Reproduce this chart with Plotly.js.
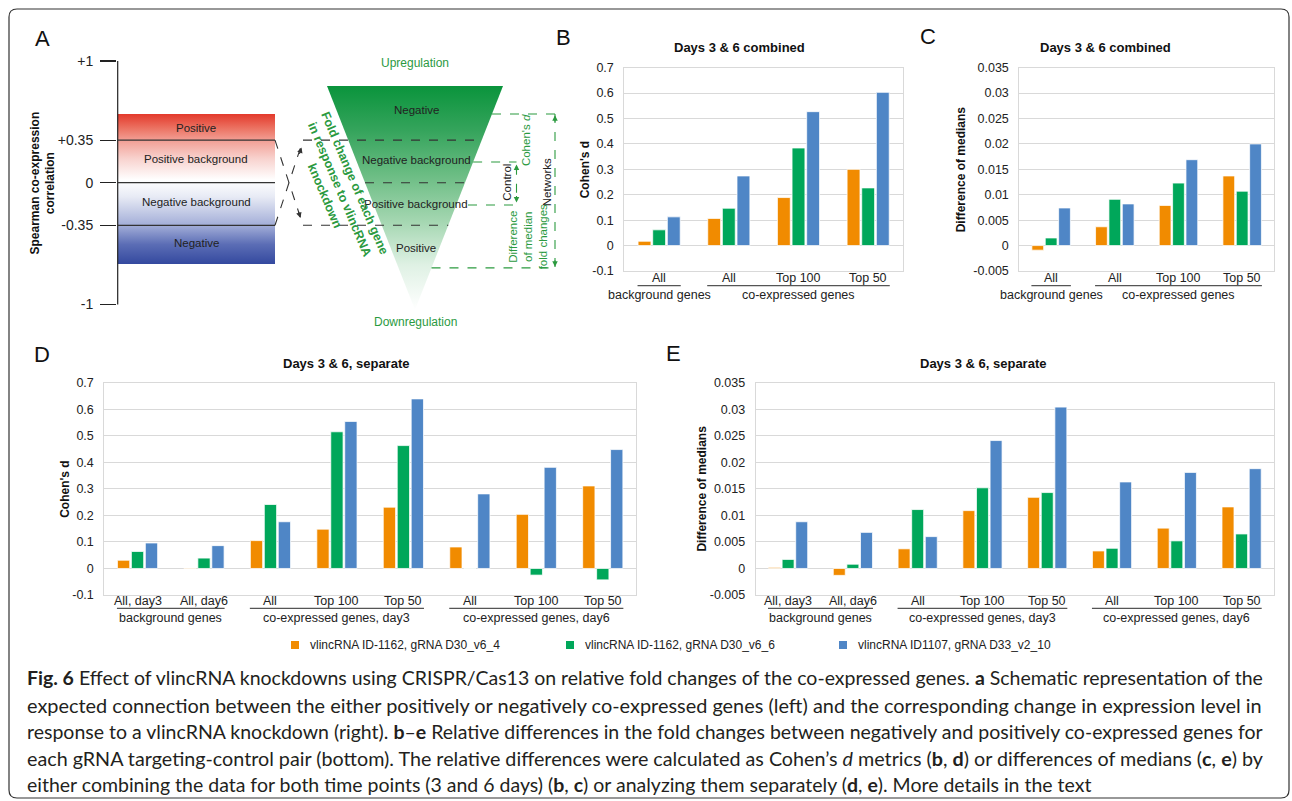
<!DOCTYPE html>
<html>
<head>
<meta charset="utf-8">
<script src="https://cdn.plot.ly/plotly-3.0.1.min.js"></script>
<style>html,body{margin:0;padding:0;background:#fff;}#chart{width:1292px;height:801px;}</style>
</head>
<body>
<div id="chart"></div>
<script>
// ---------------- DATA ----------------
const seriesNames = ['vlincRNA ID-1162, gRNA D30_v6_4', 'vlincRNA ID-1162, gRNA D30_v6_6', 'vlincRNA ID1107, gRNA D33_v2_10'];
const seriesColors = ['#F18B00', '#00A75A', '#4F86C6'];

// Panel B / C categories (days combined)
const catsCombined = ['All', 'All', 'Top 100', 'Top 50'];
const groupsCombined = [
  {label: 'background genes', from: 0, to: 0},
  {label: 'co-expressed genes', from: 1, to: 3}
];
// Panel D / E categories (days separate)
const catsSeparate = ['All, day3', 'All, day6', 'All', 'Top 100', 'Top 50', 'All', 'Top 100', 'Top 50'];
const groupsSeparate = [
  {label: 'background genes', from: 0, to: 1},
  {label: 'co-expressed genes, day3', from: 2, to: 4},
  {label: 'co-expressed genes, day6', from: 5, to: 7}
];

// B: Cohen's d, combined
const cohenCombined_v6_4 = [0.017, 0.107, 0.189, 0.300];
const cohenCombined_v6_6 = [0.062, 0.147, 0.384, 0.227];
const cohenCombined_v2_10 = [0.113, 0.274, 0.527, 0.603];
// C: difference of medians, combined
const medCombined_v6_4 = [-0.0009, 0.0037, 0.0079, 0.0137];
const medCombined_v6_6 = [0.0015, 0.0091, 0.0123, 0.0107];
const medCombined_v2_10 = [0.0074, 0.0082, 0.0169, 0.0200];
// D: Cohen's d, separate
const cohenSeparate_v6_4 = [0.031, 0.002, 0.105, 0.148, 0.231, 0.081, 0.204, 0.311];
const cohenSeparate_v6_6 = [0.064, 0.039, 0.241, 0.515, 0.463, 0.001, -0.025, -0.043];
const cohenSeparate_v2_10 = [0.096, 0.086, 0.176, 0.554, 0.639, 0.281, 0.381, 0.448];
// E: difference of medians, separate
const medSeparate_v6_4 = [0.0002, -0.0013, 0.0037, 0.0109, 0.0134, 0.0033, 0.0076, 0.0116];
const medSeparate_v6_6 = [0.0017, 0.0008, 0.0111, 0.0152, 0.0143, 0.0038, 0.0052, 0.0065];
const medSeparate_v2_10 = [0.0088, 0.0068, 0.0060, 0.0241, 0.0304, 0.0163, 0.0181, 0.0188];

// Tick labels
const cohenTicks = [-0.1, 0, 0.1, 0.2, 0.3, 0.4, 0.5, 0.6, 0.7];
const cohenTickText = ['-0.1', '0', '0.1', '0.2', '0.3', '0.4', '0.5', '0.6', '0.7'];
const medTicks = [-0.005, 0, 0.005, 0.01, 0.015, 0.02, 0.025, 0.03, 0.035];
const medTickText = ['-0.005', '0', '0.005', '0.01', '0.015', '0.02', '0.025', '0.03', '0.035'];

// Panel A schematic
const corrTicks = [1, 0.35, 0, -0.35, -1];
const corrTickText = ['+1', '+0.35', '0', '-0.35', '-1'];
const corrBoundaries = [0.35, 0, -0.35];
const corrRegionLabels = ['Positive', 'Positive background', 'Negative background', 'Negative'];
const corrRegionLabelY = [0.449, 0.195, -0.159, -0.496];
const corrBarRange = [-0.668, 0.565];
const foldRegionLabels = ['Negative', 'Negative background', 'Positive background', 'Positive'];
const foldRegionLabelY = [0.597, 0.186, -0.175, -0.54];

// ---------------- FONT RESOLUTION ----------------
const measureCtx = document.createElement('canvas').getContext('2d');
function textWidth(str, font) { measureCtx.font = font; return measureCtx.measureText(str).width; }
const ALPHA = 'abcdefghijklmnopqrstuvwxyz';
const ARIAL_ALPHA_100 = 1272.6;
function fontExists(name) {
  return ['monospace', 'serif'].some(base => textWidth(ALPHA + 'WMil0', '100px ' + base) !== textWidth(ALPHA + 'WMil0', '100px "' + name + '", ' + base));
}
let FONT = null, SCALE = 1;
for (const cand of ['Liberation Sans', 'Arimo', 'Arial', 'Helvetica', 'Nimbus Sans', 'FreeSans']) {
  if (fontExists(cand)) {
    const w = textWidth(ALPHA, '100px "' + cand + '"');
    if (Math.abs(w / ARIAL_ALPHA_100 - 1) < 0.04) { FONT = cand; break; }
  }
}
if (!FONT) {
  FONT = fontExists('Roboto') ? 'Roboto' : 'sans-serif';
  SCALE = ARIAL_ALPHA_100 / textWidth(ALPHA, '100px "' + FONT + '"');
  if (!isFinite(SCALE) || SCALE <= 0) SCALE = 1;
}
const sz = n => n * SCALE;
const CAPTION_FONT = fontExists('Lato') ? 'Lato' : (fontExists('Open Sans') ? 'Open Sans' : FONT);

// ---------------- LAYOUT HELPERS ----------------
const W = 1292, H = 801;
const fx = p => p / W;
const fy = p => 1 - p / H;
const GREEN_TXT = '#2b9a3f';

const traces = [];
const shapes = [];
const annotations = [];
const layout = {
  width: W, height: H,
  margin: {l: 0, r: 0, t: 0, b: 0},
  paper_bgcolor: '#ffffff', plot_bgcolor: 'rgba(0,0,0,0)',
  showlegend: false,
  barmode: 'group', bargap: 0.37, bargroupgap: 0.12,
  font: {family: FONT, color: '#222'},
  hovermode: false
};

function ann(text, x, y, o) {
  annotations.push(Object.assign({
    text: text, x: fx(x), y: fy(y), xref: 'paper', yref: 'paper',
    showarrow: false, xanchor: 'center', yanchor: 'middle',
    font: {family: FONT, size: sz(12), color: '#222'}
  }, o || {}));
}

// ---------------- BAR PANELS ----------------
const panels = [
  {n: 1, cats: catsCombined, groups: groupsCombined, series: [cohenCombined_v6_4, cohenCombined_v6_6, cohenCombined_v2_10],
   xd: [624.3, 903], yd: [67.7, 271], range: [-0.1, 0.7], ticks: cohenTicks, tickText: cohenTickText,
   ytitle: "Cohen's d", ytx: 585, title: 'Days 3 & 6 combined', tx: 740, ty: 47.7, catY: 278, lineY: 285.7, groupY: 294.5},
  {n: 2, cats: catsCombined, groups: groupsCombined, series: [medCombined_v6_4, medCombined_v6_6, medCombined_v2_10],
   xd: [1019.3, 1274], yd: [67.7, 271], range: [-0.005, 0.035], ticks: medTicks, tickText: medTickText,
   ytitle: 'Difference of medians', ytx: 961, title: 'Days 3 & 6 combined', tx: 1105, ty: 47.7, catY: 278, lineY: 285.7, groupY: 294.5},
  {n: 3, cats: catsSeparate, groups: groupsSeparate, series: [cohenSeparate_v6_4, cohenSeparate_v6_6, cohenSeparate_v2_10],
   xd: [104.3, 636], yd: [382.7, 595], range: [-0.1, 0.7], ticks: cohenTicks, tickText: cohenTickText,
   ytitle: "Cohen's d", ytx: 65, title: 'Days 3 & 6, separate', tx: 346, ty: 363, catY: 601.3, lineY: 608.3, groupY: 617.5},
  {n: 4, cats: catsSeparate, groups: groupsSeparate, series: [medSeparate_v6_4, medSeparate_v6_6, medSeparate_v2_10],
   xd: [755.7, 1274], yd: [382.7, 595], range: [-0.005, 0.035], ticks: medTicks, tickText: medTickText,
   ytitle: 'Difference of medians', ytx: 701.7, title: 'Days 3 & 6, separate', tx: 983, ty: 363, catY: 601.3, lineY: 608.3, groupY: 617.5}
];

panels.forEach(p => {
  const sfx = p.n === 1 ? '' : String(p.n);
  const xa = 'x' + sfx, ya = 'y' + sfx;
  const idx = p.cats.map((c, i) => i);
  p.series.forEach((vals, s) => {
    traces.push({
      type: 'bar', x: idx, y: vals, xaxis: xa, yaxis: ya, name: seriesNames[s],
      marker: {color: seriesColors[s], line: {color: 'rgba(255,255,255,0.75)', width: 1}},
      hoverinfo: 'skip'
    });
  });
  layout['xaxis' + sfx] = {
    domain: [fx(p.xd[0]), fx(p.xd[1])], anchor: ya, range: [-0.5, p.cats.length - 0.5],
    tickmode: 'array', tickvals: idx, ticktext: p.cats, ticks: '', showticklabels: false,
    showgrid: false, zeroline: false,
    showline: true, mirror: true, linecolor: '#d9d9d9', linewidth: 1, fixedrange: true
  };
  layout['yaxis' + sfx] = {
    domain: [fy(p.yd[1]), fy(p.yd[0])], anchor: xa, range: p.range,
    tickmode: 'array', tickvals: p.ticks, ticktext: p.tickText, ticks: '',
    showgrid: true, gridcolor: '#d9d9d9', gridwidth: 1, zeroline: false,
    showline: true, mirror: true, linecolor: '#d9d9d9', linewidth: 1,
    tickfont: {family: FONT, size: sz(12.5), color: '#222'}, ticklabelstandoff: 7,
    fixedrange: true
  };
  p.cats.forEach((c, i) => annotations.push({text: c, xref: xa, yref: 'paper', x: i, y: fy(p.catY),
    showarrow: false, xanchor: 'center', yanchor: 'middle', font: {family: FONT, size: sz(12.5), color: '#222'}}));
  ann('<b>' + p.ytitle + '</b>', p.ytx, (p.yd[0] + p.yd[1]) / 2, {textangle: -90, font: {family: FONT, size: sz(12), color: '#111'}});
  ann('<b>' + p.title + '</b>', p.tx, p.ty, {font: {family: FONT, size: sz(13), color: '#111'}});
  p.groups.forEach(g => {
    shapes.push({type: 'line', xref: xa, yref: 'paper', x0: g.from - 0.31, x1: g.to + 0.31,
      y0: fy(p.lineY), y1: fy(p.lineY), line: {color: '#555', width: 1.2}});
    annotations.push({text: g.label, xref: xa, yref: 'paper', x: (g.from + g.to) / 2, y: fy(p.groupY),
      showarrow: false, xanchor: 'center', yanchor: 'middle', font: {family: FONT, size: sz(12.5), color: '#222'}});
  });
});

// ---------------- PANEL A (schematic) ----------------
layout.xaxis5 = {domain: [fx(117), fx(560)], range: [117, 560], anchor: 'y5', visible: false, fixedrange: true};
layout.yaxis5 = {
  domain: [fy(322.65), fy(42.75)], range: [-1.15, 1.15], anchor: 'x5',
  tickmode: 'array', tickvals: corrTicks, ticktext: corrTickText,
  ticks: 'outside', ticklen: 16, tickwidth: 1.2, tickcolor: '#222',
  showgrid: false, zeroline: false, showline: false,
  tickfont: {family: FONT, size: sz(14), color: '#222'}, ticklabelstandoff: 4,
  fixedrange: true
};
ann('<b>Spearman co-expression</b><br><b>correlation</b>', 42.5, 183, {textangle: -90, font: {family: FONT, size: sz(12), color: '#111'}});
const XA = 'x5', YA = 'y5';
const rectL = 117.7, rectR = 275;
traces.push({
  type: 'scatter', xaxis: XA, yaxis: YA, mode: 'lines', line: {width: 0, color: 'rgba(0,0,0,0)'},
  x: [rectL, rectR, rectR, rectL, rectL],
  y: [corrBarRange[1], corrBarRange[1], corrBarRange[0], corrBarRange[0], corrBarRange[1]],
  fill: 'toself',
  fillgradient: {type: 'vertical', start: corrBarRange[0], stop: corrBarRange[1],
    colorscale: [[0, '#34499f'], [0.13, '#5b6db5'], [0.258, '#a3aed8'], [0.45, '#e8ebf5'], [0.56, '#ffffff'], [0.70, '#f8d3cf'], [0.826, '#f29e94'], [0.9, '#ec7565'], [1, '#e3392b']]},
  hoverinfo: 'skip'
});
const tri = {top: 0.795, bot: -1.045, left: 327, right: 503, apex: 415};
traces.push({
  type: 'scatter', xaxis: XA, yaxis: YA, mode: 'lines', line: {width: 0, color: 'rgba(0,0,0,0)'},
  x: [tri.left, tri.right, tri.apex, tri.left], y: [tri.top, tri.top, tri.bot, tri.top],
  fill: 'toself',
  fillgradient: {type: 'vertical', start: tri.bot, stop: tri.top,
    colorscale: [[0, '#ffffff'], [0.2, '#dff1e4'], [0.4, '#a3d6b0'], [0.6, '#6cbd84'], [0.8, '#35a45c'], [1, '#0a943c']]},
  hoverinfo: 'skip'
});
const triL = y => tri.left + (tri.top - y) / (tri.top - tri.bot) * (tri.apex - tri.left);
const triR = y => tri.right - (tri.top - y) / (tri.top - tri.bot) * (tri.right - tri.apex);

shapes.push({type: 'line', xref: XA, yref: YA, x0: 117.7, x1: 117.7, y0: -1, y1: 1, line: {color: '#222', width: 1.2}});
corrBoundaries.forEach(b => shapes.push({type: 'line', xref: XA, yref: YA, x0: 117.7, x1: rectR, y0: b, y1: b, line: {color: '#333', width: 1.2}}));
corrRegionLabels.forEach((t, i) => annotations.push({text: t, xref: XA, yref: YA, x: (rectL + rectR) / 2, y: corrRegionLabelY[i],
  showarrow: false, font: {family: FONT, size: sz(11.5), color: '#222'}}));
const dashStart = 303;
const ddash = {color: '#333', width: 1.1, dash: 'dash'};
shapes.push({type: 'line', xref: XA, yref: YA, x0: dashStart, x1: triR(0.35), y0: 0.35, y1: 0.35, line: ddash});
shapes.push({type: 'line', xref: XA, yref: YA, x0: triL(0), x1: triR(0), y0: 0, y1: 0, line: ddash});
shapes.push({type: 'line', xref: XA, yref: YA, x0: dashStart, x1: triR(-0.35), y0: -0.35, y1: -0.35, line: ddash});
shapes.push({type: 'line', xref: XA, yref: YA, x0: rectR, x1: dashStart, y0: 0.35, y1: -0.35, line: ddash});
shapes.push({type: 'line', xref: XA, yref: YA, x0: rectR, x1: dashStart, y0: -0.35, y1: 0.35, line: ddash});
function arrowHead(x, y, ax, ay, color) {
  annotations.push({text: '', xref: XA, yref: YA, x: x, y: y, ax: ax, ay: ay, axref: 'pixel', ayref: 'pixel',
    showarrow: true, arrowhead: 2, arrowsize: 1, arrowwidth: 1.1, arrowcolor: color});
}
arrowHead(300.5, -0.29, -2.5, -8, '#333');
arrowHead(301.5, 0.29, -2.5, 8, '#333');
foldRegionLabels.forEach((t, i) => annotations.push({text: t, xref: XA, yref: YA, x: tri.apex + 1, y: foldRegionLabelY[i],
  showarrow: false, font: {family: FONT, size: sz(11.5), color: '#222'}}));
annotations.push({text: 'Upregulation', xref: XA, yref: YA, x: tri.apex, y: 0.985, showarrow: false, font: {family: FONT, size: sz(12), color: GREEN_TXT}});
annotations.push({text: 'Downregulation', xref: XA, yref: YA, x: tri.apex, y: -1.145, showarrow: false, font: {family: FONT, size: sz(12), color: GREEN_TXT}});
annotations.push({text: '<b>Fold change of each gene</b><br><b>in response to vlincRNA</b><br><b>knockdown</b>', xref: XA, yref: YA,
  x: 339, y: -0.06, textangle: 67, showarrow: false, font: {family: FONT, size: sz(12.5), color: GREEN_TXT}});

const G = '#2b9a3f';
const lvNeg = 0.565, lvPos = -0.70, lvNegBg = 0.17, lvPosBg = -0.183;
const netX = 555, ctlX = 516.5;
const gdash = {color: G, width: 1.1, dash: 'dash'};
shapes.push({type: 'line', xref: XA, yref: YA, x0: triR(lvNeg), x1: netX, y0: lvNeg, y1: lvNeg, line: gdash});
shapes.push({type: 'line', xref: XA, yref: YA, x0: triR(lvPos), x1: netX, y0: lvPos, y1: lvPos, line: gdash});
shapes.push({type: 'line', xref: XA, yref: YA, x0: netX, x1: netX, y0: lvNeg, y1: lvPos, line: gdash});
shapes.push({type: 'line', xref: XA, yref: YA, x0: triR(lvNegBg), x1: ctlX, y0: lvNegBg, y1: lvNegBg, line: gdash});
shapes.push({type: 'line', xref: XA, yref: YA, x0: 468, x1: ctlX, y0: lvPosBg, y1: lvPosBg, line: gdash});
shapes.push({type: 'line', xref: XA, yref: YA, x0: ctlX, x1: ctlX, y0: lvNegBg - 0.03, y1: lvPosBg + 0.03, line: gdash});
arrowHead(netX, lvNeg - 0.01, 0, 8, G);
arrowHead(netX, lvPos + 0.01, 0, -8, G);
arrowHead(ctlX, lvNegBg - 0.02, 0, 8, G);
arrowHead(ctlX, lvPosBg + 0.02, 0, -8, G);
annotations.push({text: "Cohen's <i>d</i>", xref: XA, yref: YA, x: 526, y: 0.35, textangle: -90, showarrow: false, font: {family: FONT, size: sz(11.5), color: G}});
annotations.push({text: 'Control', xref: XA, yref: YA, x: 507, y: 0.0, textangle: -90, showarrow: false, font: {family: FONT, size: sz(11.5), color: '#222'}});
annotations.push({text: 'Networks', xref: XA, yref: YA, x: 546.5, y: 0.0, textangle: -90, showarrow: false, font: {family: FONT, size: sz(11.5), color: '#222'}});
annotations.push({text: 'Difference<br>of median<br>fold changes', xref: XA, yref: YA, x: 527.5, y: -0.445, textangle: -90, showarrow: false, font: {family: FONT, size: sz(11.5), color: G}});

// ---------------- PANEL LETTERS ----------------
[['A', 42, 38], ['B', 563, 37], ['C', 928, 36], ['D', 42, 354], ['E', 673, 353]].forEach(l =>
  ann(l[0], l[1], l[2], {font: {family: FONT, size: sz(22), color: '#111'}}));

// ---------------- LEGEND ----------------
const legendX = [295, 570, 843], legendY = 645;
seriesNames.forEach((nm, i) => {
  shapes.push({type: 'rect', xref: 'paper', yref: 'paper', x0: fx(legendX[i] - 4), x1: fx(legendX[i] + 4),
    y0: fy(legendY + 4), y1: fy(legendY - 4), line: {width: 0}, fillcolor: seriesColors[i]});
  ann(nm, legendX[i] + 13, legendY, {xanchor: 'left', font: {family: FONT, size: sz(12), color: '#222'}});
});

// ---------------- CAPTION ----------------
const captionLines = [
  '<b>Fig. 6</b> Effect of vlincRNA knockdowns using CRISPR/Cas13 on relative fold changes of the co-expressed genes. <b>a</b> Schematic representation of the',
  'expected connection between the either positively or negatively co-expressed genes (left) and the corresponding change in expression level in',
  'response to a vlincRNA knockdown (right). <b>b</b>–<b>e</b> Relative differences in the fold changes between negatively and positively co-expressed genes for',
  'each gRNA targeting-control pair (bottom). The relative differences were calculated as Cohen’s <i>d</i> metrics (<b>b</b>, <b>d</b>) or differences of medians (<b>c</b>, <b>e</b>) by',
  'either combining the data for both time points (3 and 6 days) (<b>b</b>, <b>c</b>) or analyzing them separately (<b>d</b>, <b>e</b>). More details in the text'
];
const captionY = [677, 704.5, 731.5, 758, 784.5];
const captionWidthTarget = 1238;
const fitSize = t => 100 * captionWidthTarget / textWidth(t.replace(/<[^>]+>/g, ''), '100px "' + CAPTION_FONT + '"');
let baseCap = fitSize(captionLines[0]);
if (!isFinite(baseCap) || baseCap < 14 || baseCap > 24) baseCap = 19.5;
captionLines.forEach((t, i) => {
  let s = baseCap;
  if (i < 4) {
    const f = fitSize(t);
    if (isFinite(f)) s = Math.min(baseCap * 1.04, Math.max(baseCap * 0.96, f));
  }
  ann(t, 25, captionY[i], {xanchor: 'left', font: {family: CAPTION_FONT, size: s, color: '#231f20'}});
});

// ---------------- FRAME ----------------
const fl = 9, ft = 9, fr = 1289, fb = 798, rr = 8;
const P = (x, y) => fx(x) + ',' + fy(y);
shapes.push({type: 'path', xref: 'paper', yref: 'paper', layer: 'above',
  path: 'M' + P(fl, ft + rr) + ' Q' + P(fl, ft) + ' ' + P(fl + rr, ft) + ' L' + P(fr - rr, ft) + ' Q' + P(fr, ft) + ' ' + P(fr, ft + rr) +
        ' L' + P(fr, fb - rr) + ' Q' + P(fr, fb) + ' ' + P(fr - rr, fb) + ' L' + P(fl + rr, fb) + ' Q' + P(fl, fb) + ' ' + P(fl, fb - rr) + ' Z',
  line: {color: '#333', width: 1.2}, fillcolor: 'rgba(0,0,0,0)'});

layout.shapes = shapes;
layout.annotations = annotations;
Plotly.newPlot('chart', traces, layout, {displayModeBar: false, staticPlot: true});
</script>
</body>
</html>
